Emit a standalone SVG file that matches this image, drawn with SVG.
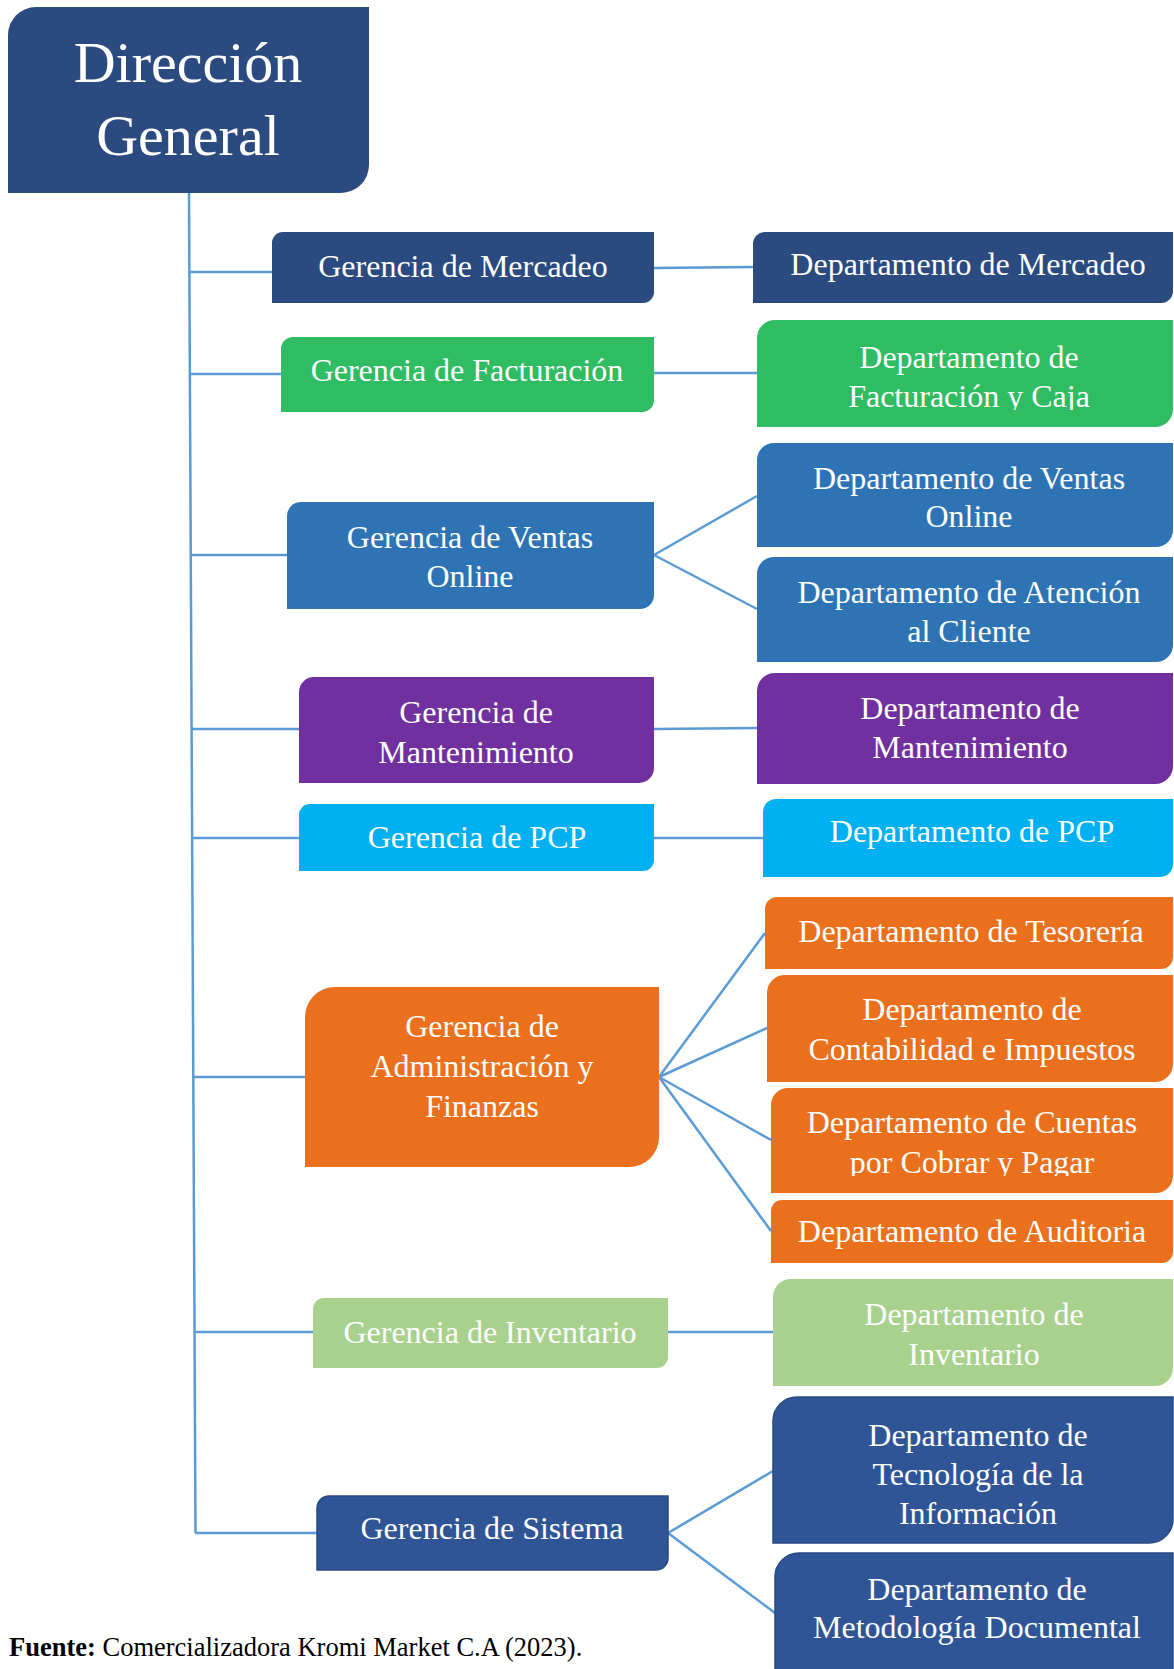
<svg xmlns="http://www.w3.org/2000/svg" width="1174" height="1669" viewBox="0 0 1174 1669">
<style>
.t{font-family:"Liberation Serif","Times New Roman",serif;font-size:32px;fill:#ffffff;text-anchor:middle}
.big{font-size:58px}
.navy{fill:#2A4A80}
.green{fill:#2FBC62}
.blue{fill:#2E74B5}
.purple{fill:#7030A0}
.cyan{fill:#00B0F0}
.orange{fill:#EA701D}
.lgreen{fill:#A9D18E}
.sys{fill:#2F5597;stroke:#284A84;stroke-width:1.5}
.c{stroke:#5B9BD5;stroke-width:2.5;fill:none}
.src{font-family:"Liberation Serif","Times New Roman",serif;font-size:26.5px;fill:#000000}
</style>
<defs>
<clipPath id="clipFact"><rect x="757" y="320" width="417" height="90"/></clipPath>
<clipPath id="clipCuentas"><rect x="771" y="1088" width="403" height="88"/></clipPath>
</defs>
<rect width="1174" height="1669" fill="#ffffff"/>
<g id="connectors">
<line class="c" x1="189" y1="193" x2="195.5" y2="1533"/>
<line class="c" x1="189.3" y1="272" x2="272" y2="272"/>
<line class="c" x1="189.8" y1="374" x2="281" y2="374"/>
<line class="c" x1="190.6" y1="555" x2="287" y2="555"/>
<line class="c" x1="191.4" y1="729" x2="299" y2="729"/>
<line class="c" x1="192" y1="838" x2="299" y2="838"/>
<line class="c" x1="193" y1="1077" x2="305" y2="1077"/>
<line class="c" x1="194.3" y1="1332" x2="313" y2="1332"/>
<line class="c" x1="195.3" y1="1533" x2="317" y2="1533"/>
<line class="c" x1="654" y1="268" x2="753" y2="267"/>
<line class="c" x1="654" y1="373" x2="757" y2="373"/>
<line class="c" x1="654" y1="555" x2="757" y2="496"/>
<line class="c" x1="654" y1="555" x2="757" y2="609"/>
<line class="c" x1="654" y1="729" x2="757" y2="728"/>
<line class="c" x1="654" y1="838" x2="763" y2="838"/>
<line class="c" x1="659" y1="1077" x2="765" y2="933"/>
<line class="c" x1="659" y1="1077" x2="767" y2="1028"/>
<line class="c" x1="659" y1="1077" x2="771" y2="1140"/>
<line class="c" x1="659" y1="1077" x2="771" y2="1231"/>
<line class="c" x1="668" y1="1332" x2="773" y2="1332"/>
<line class="c" x1="668" y1="1533" x2="773" y2="1471"/>
<line class="c" x1="668" y1="1533" x2="775" y2="1613"/>
</g>
<g id="direccion-general">
<path class="navy" d="M36,7 H369 V165 A28,28 0 0 1 341,193 H8 V35 A28,28 0 0 1 36,7 Z"/>
<text class="t big" x="188" y="82">Dirección</text>
<text class="t big" x="188" y="155">General</text>
</g>
<g id="gerencia-mercadeo">
<path class="navy" d="M283,232 H654 V292 A11,11 0 0 1 643,303 H272 V243 A11,11 0 0 1 283,232 Z"/>
<text class="t" x="463" y="277">Gerencia de Mercadeo</text>
</g>
<g id="gerencia-facturacion">
<path class="green" d="M293,337 H654 V400 A12,12 0 0 1 642,412 H281 V349 A12,12 0 0 1 293,337 Z"/>
<text class="t" x="467" y="381">Gerencia de Facturación</text>
</g>
<g id="gerencia-ventas">
<path class="blue" d="M301,502 H654 V595 A14,14 0 0 1 640,609 H287 V516 A14,14 0 0 1 301,502 Z"/>
<text class="t" x="470" y="548">Gerencia de Ventas</text>
<text class="t" x="470" y="587">Online</text>
</g>
<g id="gerencia-mantenimiento">
<path class="purple" d="M314,677 H654 V768 A15,15 0 0 1 639,783 H299 V692 A15,15 0 0 1 314,677 Z"/>
<text class="t" x="476" y="723">Gerencia de</text>
<text class="t" x="476" y="763">Mantenimiento</text>
</g>
<g id="gerencia-pcp">
<path class="cyan" d="M310,804 H654 V860 A11,11 0 0 1 643,871 H299 V815 A11,11 0 0 1 310,804 Z"/>
<text class="t" x="477" y="848">Gerencia de PCP</text>
</g>
<g id="gerencia-administracion">
<path class="orange" d="M335,987 H659 V1137 A30,30 0 0 1 629,1167 H305 V1017 A30,30 0 0 1 335,987 Z"/>
<text class="t" x="482" y="1037">Gerencia de</text>
<text class="t" x="482" y="1077">Administración y</text>
<text class="t" x="482" y="1117">Finanzas</text>
</g>
<g id="gerencia-inventario">
<path class="lgreen" d="M324,1298 H668 V1357 A11,11 0 0 1 657,1368 H313 V1309 A11,11 0 0 1 324,1298 Z"/>
<text class="t" x="490" y="1343">Gerencia de Inventario</text>
</g>
<g id="gerencia-sistema">
<path class="sys" d="M329,1496 H668 V1558 A12,12 0 0 1 656,1570 H317 V1508 A12,12 0 0 1 329,1496 Z"/>
<text class="t" x="492" y="1539">Gerencia de Sistema</text>
</g>
<g id="depto-mercadeo">
<path class="navy" d="M765,232 H1173 V291 A12,12 0 0 1 1161,303 H753 V244 A12,12 0 0 1 765,232 Z"/>
<text class="t" x="968" y="275">Departamento de Mercadeo</text>
</g>
<g id="depto-facturacion">
<path class="green" d="M775,320 H1173 V409 A18,18 0 0 1 1155,427 H757 V338 A18,18 0 0 1 775,320 Z"/>
<g clip-path="url(#clipFact)">
<text class="t" x="969" y="368">Departamento de</text>
<text class="t" x="969" y="407">Facturación y Caja</text>
</g>
</g>
<g id="depto-ventas">
<path class="blue" d="M774,443 H1173 V530 A17,17 0 0 1 1156,547 H757 V460 A17,17 0 0 1 774,443 Z"/>
<text class="t" x="969" y="489">Departamento de Ventas</text>
<text class="t" x="969" y="527">Online</text>
</g>
<g id="depto-atencion">
<path class="blue" d="M774,557 H1173 V645 A17,17 0 0 1 1156,662 H757 V574 A17,17 0 0 1 774,557 Z"/>
<text class="t" x="969" y="603">Departamento de Atención</text>
<text class="t" x="969" y="642">al Cliente</text>
</g>
<g id="depto-mantenimiento">
<path class="purple" d="M775,673 H1173 V766 A18,18 0 0 1 1155,784 H757 V691 A18,18 0 0 1 775,673 Z"/>
<text class="t" x="970" y="719">Departamento de</text>
<text class="t" x="970" y="758">Mantenimiento</text>
</g>
<g id="depto-pcp">
<path class="cyan" d="M776,799 H1173 V864 A13,13 0 0 1 1160,877 H763 V812 A13,13 0 0 1 776,799 Z"/>
<text class="t" x="972" y="842">Departamento de PCP</text>
</g>
<g id="depto-tesoreria">
<path class="orange" d="M777,897 H1173 V957 A12,12 0 0 1 1161,969 H765 V909 A12,12 0 0 1 777,897 Z"/>
<text class="t" x="971" y="942">Departamento de Tesorería</text>
</g>
<g id="depto-contabilidad">
<path class="orange" d="M785,975 H1173 V1064 A18,18 0 0 1 1155,1082 H767 V993 A18,18 0 0 1 785,975 Z"/>
<text class="t" x="972" y="1020">Departamento de</text>
<text class="t" x="972" y="1060">Contabilidad e Impuestos</text>
</g>
<g id="depto-cuentas">
<path class="orange" d="M788,1088 H1173 V1176 A17,17 0 0 1 1156,1193 H771 V1105 A17,17 0 0 1 788,1088 Z"/>
<g clip-path="url(#clipCuentas)">
<text class="t" x="972" y="1133">Departamento de Cuentas</text>
<text class="t" x="972" y="1173">por Cobrar y Pagar</text>
</g>
</g>
<g id="depto-auditoria">
<path class="orange" d="M782,1200 H1173 V1252 A11,11 0 0 1 1162,1263 H771 V1211 A11,11 0 0 1 782,1200 Z"/>
<text class="t" x="972" y="1242">Departamento de Auditoria</text>
</g>
<g id="depto-inventario">
<path class="lgreen" d="M791,1279 H1173 V1368 A18,18 0 0 1 1155,1386 H773 V1297 A18,18 0 0 1 791,1279 Z"/>
<text class="t" x="974" y="1325">Departamento de</text>
<text class="t" x="974" y="1365">Inventario</text>
</g>
<g id="depto-tecnologia">
<path class="sys" d="M797,1397 H1173 V1519 A24,24 0 0 1 1149,1543 H773 V1421 A24,24 0 0 1 797,1397 Z"/>
<text class="t" x="978" y="1446">Departamento de</text>
<text class="t" x="978" y="1485">Tecnología de la</text>
<text class="t" x="978" y="1524">Información</text>
</g>
<g id="depto-metodologia">
<path class="sys" d="M799,1553 H1173 V1700 H775 V1577 A24,24 0 0 1 799,1553 Z"/>
<text class="t" x="977" y="1600">Departamento de</text>
<text class="t" x="977" y="1638">Metodología Documental</text>
</g>
<text class="src" x="9" y="1656"><tspan font-weight="bold">Fuente:</tspan> Comercializadora Kromi Market C.A (2023).</text>
</svg>
